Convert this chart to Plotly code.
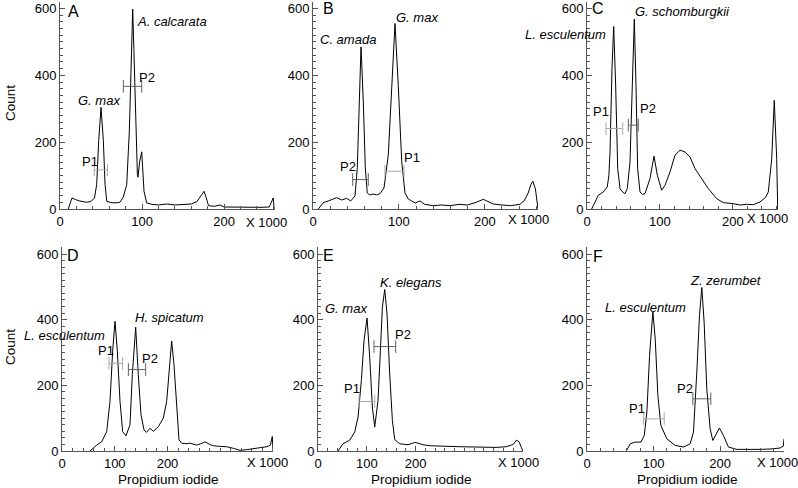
import plotly.graph_objects as go

W, H = 798, 488

# ---------------- data ----------------
a_x = [10, 14.6, 19, 24, 32.5, 38, 42, 44.7, 47.2, 50, 52.8, 54.9, 57, 61, 67, 73, 77, 81.3, 84.5, 86.5, 88.6,
       90, 91.5, 93, 94.3, 95, 97, 99.6, 101, 102.4, 105.6, 112, 120, 130, 140, 150, 160, 166.7, 171, 175.6,
       178, 181, 188, 195, 200, 215, 230, 245, 255, 259.8, 261]
a_y = [0, 33, 28, 24, 20, 23, 33, 73, 205, 304, 205, 73, 23, 20, 18, 20, 35, 73, 234, 420, 598,
       480, 334, 200, 103, 95, 140, 171, 120, 53, 18, 14, 12, 15, 12, 14, 15, 22, 38, 53,
       35, 10, 8, 12, 6, 5, 4, 5, 6, 33, 0]

b_x = [6.2, 12, 17.8, 23.7, 27.5, 33.4, 39.2, 43.9, 48.9, 51.6, 53.6, 55.9, 58.6, 60.9, 63.2, 66, 70, 74, 78,
       82.7, 87.7, 91.6, 95.5, 99.3, 103.3, 107.1, 111, 114.9, 119, 124.6, 130, 140, 150, 160, 170, 180, 190,
       198.3, 204, 209.9, 220, 230, 241, 246, 250.6, 254, 256, 259, 262]
b_y = [0, 19, 24, 29, 34, 27, 32, 24, 39, 123, 320, 485, 320, 123, 48, 42, 45, 42, 46,
       63, 162, 370, 555, 370, 142, 48, 30, 24, 18, 24, 14, 10, 12, 10, 14, 12, 20,
       29, 22, 15, 12, 10, 14, 25, 48, 75, 83, 60, 0]

c_x = [6.4, 10, 15.5, 22.4, 27.8, 30, 31.6, 34.3, 36.6, 39.3, 42.1, 45.3, 49, 52.1, 55.3, 59, 62.2, 64.9, 67.2,
       69.5, 72.7, 76, 79.6, 86.4, 91.9, 96.5, 102.4, 107, 113.9, 120.7, 127.6, 134.4, 137, 141.3, 148.1,
       157.3, 166.4, 177.9, 187, 200.7, 210, 219, 228, 237.3, 245, 248.7, 253.4, 256.9, 260.2, 261.6]
c_y = [0, 15, 41, 51, 66, 100, 171, 421, 546, 371, 121, 61, 50, 46, 61, 141, 371, 568, 371,
       121, 51, 44, 46, 91, 158, 101, 56, 71, 111, 161, 176, 171, 165, 156, 121,
       91, 61, 31, 19, 16, 12, 14, 13, 21, 35, 51, 151, 325, 151, 0]

d_x = [53, 65.8, 75.2, 84.7, 91, 96, 100.5, 104.9, 110, 115, 121.3, 128.9, 133.3, 139.7, 144.6, 149.8, 155.5,
       160.5, 166.8, 173.1, 182.6, 192, 198.4, 203.4, 207.9, 212.3, 217.4, 221.8, 226.9, 235, 242.7, 255.3,
       263, 271, 280, 286.9, 300, 312.2, 325, 337.4, 350, 362.7, 375, 388, 395, 398.7, 400]
d_y = [0, 18, 28, 59, 151, 304, 395, 304, 151, 59, 46, 80, 233, 377, 233, 110, 64,
       57, 69, 60, 74, 100, 151, 263, 335, 263, 131, 34, 24, 22, 24, 18,
       22, 28, 20, 16, 14, 13, 8, 2, 4, 6, 10, 13, 18, 44, 0]

e_x = [41, 51.2, 65, 75.2, 82, 88.9, 94.3, 100.5, 105.9, 111.4, 116.2, 123, 127.8, 131.9, 136.7, 141.4, 146.9,
       152.4, 157.2, 167.4, 184.4, 198.2, 205, 215.2, 230, 249.4, 270, 290.4, 320, 345, 365, 386, 400, 406.5,
       412, 416.8, 420]
e_y = [0, 22, 33, 58, 103, 215, 337, 405, 286, 134, 73, 154, 306, 438, 492, 418, 235,
       93, 35, 22, 19, 26, 24, 19, 16, 16, 14, 13, 12, 10, 11, 13, 20, 33,
       28, 10, 0]

f_x = [59, 65, 72.5, 81, 86, 90, 94, 99, 102.5, 106.5, 111, 120, 132.5, 145, 155, 160, 165, 169, 172.5, 176,
       180, 185, 189, 194, 199, 205, 212.5, 225, 240, 260, 275, 290, 295, 296]
f_y = [0, 22, 27, 27, 47, 119, 291, 424, 341, 169, 78, 37, 17, 12, 22, 58, 240, 412, 498, 392,
       189, 68, 32, 53, 70, 47, 12, 5, 4, 5, 6, 9, 15, 37]

# gates: [lo, hi, height]
gate_p1 = {"A": [41.8, 57.7, 117], "B": [83.8, 106, 113], "C": [26, 49, 241],
           "D": [89, 115, 267], "E": [84, 116.2, 151], "F": [85, 116, 98]}
gate_p2 = {"A": [77.2, 99.6, 367], "B": [46.2, 64.4, 88], "C": [56.7, 70.4, 251],
           "D": [125.8, 158.6, 248], "E": [114.8, 159.2, 318], "F": [159, 186, 159]}

x_ranges = {"A": [0, 262], "B": [0, 262], "C": [0, 262], "D": [0, 400], "E": [0, 420], "F": [0, 296]}
y_ranges = {"top": [0, 620], "bottom": [0, 620]}
x_ticks = [0, 100, 200]
y_ticks = [0, 200, 400, 600]

species = {
    "A": [("A. calcarata", 172, 21), ("G. max", 99, 101)],
    "B": [("C. amada", 348, 39), ("G. max", 417, 17)],
    "C": [("L. esculentum", 565, 34), ("G. schomburgkii", 682, 11)],
    "D": [("L. esculentum", 64, 335), ("H. spicatum", 169, 317)],
    "E": [("G. max", 346, 308), ("K. elegans", 411, 282)],
    "F": [("L. esculentum", 645, 307), ("Z. zerumbet", 726, 280)],
}
p_labels = {
    "A": [("P1", 90, 161), ("P2", 147, 77)],
    "B": [("P2", 348, 166), ("P1", 412, 157)],
    "C": [("P1", 601, 111), ("P2", 648, 108)],
    "D": [("P1", 106, 350), ("P2", 150, 358)],
    "E": [("P1", 352, 388), ("P2", 403, 334)],
    "F": [("P1", 637, 408), ("P2", 685, 388)],
}
letter_pos = {"A": (73, 11), "B": (328, 8), "C": (598, 8), "D": (73, 255), "E": (328, 255), "F": (598, 256)}
x1000_pos = {"A": (266, 222), "B": (528, 220), "C": (767, 218), "D": (267, 462), "E": (518, 462), "F": (777, 462)}

# ---------------- layout geometry (window pixels) ----------------
x_dom_px = {"A": (60, 275), "B": (313, 538), "C": (587, 778), "D": (62, 273), "E": (318, 523), "F": (587, 784)}
y_dom_px = {"top": (8.5 - 20 * 201 / 600, 209), "bottom": (254 - 20 * 197 / 600, 451)}
rows = {"A": "top", "B": "top", "C": "top", "D": "bottom", "E": "bottom", "F": "bottom"}

FONT = "Liberation Sans, Arial, Helvetica, sans-serif"
AXC = "#555555"

def px(x):
    return x / W

def py(y):
    return min(1.0, max(0.0, 1 - y / H))

def note(text, x, y, size=13, angle=0):
    return dict(text=text, x=px(x), y=1 - y / H, xref="paper", yref="paper", showarrow=False,
                xanchor="center", yanchor="middle", textangle=angle,
                font=dict(family=FONT, size=size, color="black"))

curves = {"A": (a_x, a_y), "B": (b_x, b_y), "C": (c_x, c_y), "D": (d_x, d_y), "E": (e_x, e_y), "F": (f_x, f_y)}

fig = go.Figure()
layout = dict(width=W, height=H, margin=dict(l=0, r=0, t=0, b=0, pad=0, autoexpand=False),
              paper_bgcolor="white", plot_bgcolor="white", showlegend=False,
              font=dict(family=FONT, size=13, color="black"))
annotations = []

for i, key in enumerate(["A", "B", "C", "D", "E", "F"]):
    n = i + 1
    xa = "x" if n == 1 else f"x{n}"
    ya = "y" if n == 1 else f"y{n}"
    cx, cy = curves[key]
    fig.add_trace(go.Scatter(x=cx, y=cy, mode="lines", line=dict(color="black", width=1),
                             xaxis=xa, yaxis=ya, hoverinfo="skip", cliponaxis=False))
    for g, col in ((gate_p1[key], "#a8a8a8"), (gate_p2[key], "#606060")):
        fig.add_trace(go.Scatter(x=[g[0], g[1]], y=[g[2], g[2]], mode="lines+markers",
                                 line=dict(color=col, width=1),
                                 marker=dict(symbol="line-ns-open", size=9, color=col,
                                             line=dict(color=col, width=1)),
                                 xaxis=xa, yaxis=ya, hoverinfo="skip"))
    xd = x_dom_px[key]
    yd = y_dom_px[rows[key]]
    common = dict(showline=True, linecolor=AXC, linewidth=1, ticks="inside", ticklen=5,
                  tickcolor=AXC, tickwidth=1, showgrid=False, zeroline=False, automargin=False,
                  tickfont=dict(family=FONT, size=13, color="black"))
    layout["xaxis" if n == 1 else f"xaxis{n}"] = dict(
        domain=[px(xd[0]), px(xd[1])], range=x_ranges[key], anchor=ya, tickvals=x_ticks,
        minor=dict(ticks="inside", ticklen=3, tickcolor=AXC, dtick=20, showgrid=False), **common)
    layout["yaxis" if n == 1 else f"yaxis{n}"] = dict(
        domain=[py(yd[1]), py(yd[0])], range=y_ranges[rows[key]], anchor=xa, tickvals=y_ticks,
        minor=dict(ticks="inside", ticklen=3, tickcolor=AXC, dtick=20, showgrid=False), **common)

    lx, ly = letter_pos[key]
    annotations.append(note(key, lx, ly, size=16))
    tx, ty = x1000_pos[key]
    annotations.append(note("X 1000", tx, ty, size=13))
    for txt, sx, sy in species[key]:
        annotations.append(note(f"<i>{txt}</i>", sx, sy, size=13))
    for txt, sx, sy in p_labels[key]:
        annotations.append(note(txt, sx, sy, size=13))

for yy in (103, 347):
    annotations.append(note("Count", 10, yy, size=13.5, angle=-90))
for xx in (168, 421, 687):
    annotations.append(note("Propidium iodide", xx, 479, size=13.5))

layout["annotations"] = annotations
fig.update_layout(**layout)
# remove the browser's default 8 px page margin so the 798x488 figure fills the window
fig.write_html("out.html", config={"displayModeBar": False, "staticPlot": True},
               post_script="document.body.style.margin='0';document.body.style.overflow='hidden';")
